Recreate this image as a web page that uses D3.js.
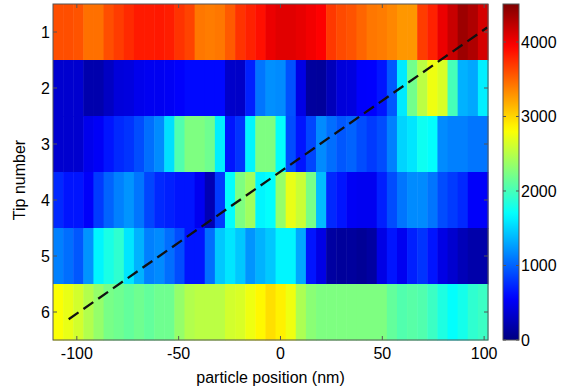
<!DOCTYPE html>
<html>
<head>
  <meta charset="utf-8">
  <script src="https://d3js.org/d3.v7.min.js"></script>
  <style>
    body { margin: 0; background: #fff; }
    text { font-family: "Liberation Sans", Arial, sans-serif; fill: #000; }
  </style>
</head>
<body>
  <div id="chart"></div>
  <script>
    // tip numbers (rows) and counts per column
    const tips = [1, 2, 3, 4, 5, 6];
    const tip1 = [3600,3600,3580,3450,3450,3600,3680,3760,3830,3830,3840,3820,3720,3650,3420,3400,3420,3550,3720,3800,3880,4030,4080,4080,4050,4000,3950,3700,3620,3580,3500,3420,3400,3350,3280,3280,3680,3800,4030,4190,4380,4300,4130];
    const tip2 = [350,350,350,200,200,300,400,420,480,500,500,520,550,600,600,600,600,330,320,700,1080,1200,1180,920,450,130,120,260,400,420,550,560,650,950,1600,2200,2520,2750,2650,2000,1350,1300,1620];
    const tip3 = [350,350,350,480,530,650,740,790,900,1050,1180,1550,2050,2250,2250,2180,1620,650,790,1650,2250,2250,1700,900,650,870,1180,1050,950,1000,900,820,900,1130,1500,1580,1750,1700,1180,1130,1130,1080,1080];
    const tip4 = [740,650,650,540,820,1000,1130,1220,1080,870,740,700,650,650,500,230,820,1700,2250,2400,1650,1700,2350,2720,2580,2220,1400,740,650,520,500,500,700,900,1080,1180,1180,1080,900,820,740,540,540];
    const tip5 = [1130,1050,950,1220,1650,1800,1900,1580,1350,1130,1180,1050,900,650,650,1050,1450,1580,1450,1220,1350,1450,1650,1650,1300,650,450,150,120,130,100,150,450,650,500,700,790,650,450,350,250,190,190];
    const tip6 = [2800,2720,2620,2480,2350,2220,2180,2130,2180,2130,2180,2180,2350,2480,2520,2520,2520,2620,2650,2750,2850,2960,2880,2750,2450,2300,2250,2250,2250,2250,2250,2250,2250,2130,2050,2080,2050,1950,1820,1700,1780,1900,1950];
    const rows = [tip1, tip2, tip3, tip4, tip5, tip6];

    const xTicks = [-100, -50, 0, 50, 100];
    const cTicks = [0, 1000, 2000, 3000, 4000];
    // dashed guide line end points (nm, tip)
    const guideX = [-104, 101.5];
    const guideY = [6.13, 0.92];

    const W = 570, H = 390;
    const plot = {left: 53, right: 488, top: 4, bottom: 340};
    const cbar = {left: 503, right: 519};
    const fs = "16px";

    const svg = d3.select("#chart").append("svg")
      .attr("width", W).attr("height", H);

    const x = d3.scaleLinear().domain([-111.7, 101.9]).range([plot.left, plot.right]);
    const y = d3.scaleLinear().domain([0.5, 6.5]).range([plot.top, plot.bottom]);

    // MATLAB jet colormap
    const jet = t => {
      const c = v => Math.max(0, Math.min(1, v));
      const r = c(Math.min(4 * t - 1.5, -4 * t + 4.5));
      const g = c(Math.min(4 * t - 0.5, -4 * t + 3.5));
      const b = c(Math.min(4 * t + 0.5, -4 * t + 2.5));
      return d3.rgb(r * 255, g * 255, b * 255).toString();
    };
    const color = d3.scaleSequential(jet).domain([0, 4510]);

    // columns span the x range evenly
    const nCols = tip1.length;
    const colW = (x.domain()[1] - x.domain()[0]) / nCols;
    const cells = [];
    rows.forEach((vals, r) => vals.forEach((v, i) => cells.push({tip: tips[r], i, v})));

    svg.append("g").selectAll("rect")
      .data(cells)
      .join("rect")
        .attr("x", d => x(x.domain()[0] + d.i * colW))
        .attr("width", d => x(x.domain()[0] + (d.i + 1) * colW) - x(x.domain()[0] + d.i * colW) + 0.5)
        .attr("y", d => y(d.tip - 0.5))
        .attr("height", d => y(d.tip + 0.5) - y(d.tip - 0.5) + 0.5)
        .attr("fill", d => color(d.v));

    // dashed line
    svg.append("line")
      .attr("x1", x(guideX[0])).attr("y1", y(guideY[0]))
      .attr("x2", x(guideX[1])).attr("y2", y(guideY[1]))
      .attr("stroke", "#111")
      .attr("stroke-width", 2.3)
      .attr("stroke-dasharray", "12,6");

    // axes (ticks inside, like MATLAB)
    const tickLen = 4;
    const axisCol = "#555";
    const ax = svg.append("g");
    ax.append("rect")
      .attr("x", plot.left).attr("y", plot.top)
      .attr("width", plot.right - plot.left).attr("height", plot.bottom - plot.top)
      .attr("fill", "none").attr("stroke", axisCol);

    xTicks.forEach(t => {
      ax.append("line").attr("x1", x(t)).attr("x2", x(t))
        .attr("y1", plot.bottom).attr("y2", plot.bottom - tickLen).attr("stroke", axisCol);
      ax.append("line").attr("x1", x(t)).attr("x2", x(t))
        .attr("y1", plot.top).attr("y2", plot.top + tickLen).attr("stroke", axisCol);
      ax.append("text").attr("x", x(t)).attr("y", 359)
        .attr("text-anchor", "middle").style("font-size", fs)
        .text(t);
    });

    tips.forEach(t => {
      ax.append("line").attr("x1", plot.left).attr("x2", plot.left + tickLen)
        .attr("y1", y(t)).attr("y2", y(t)).attr("stroke", axisCol);
      ax.append("line").attr("x1", plot.right).attr("x2", plot.right - tickLen)
        .attr("y1", y(t)).attr("y2", y(t)).attr("stroke", axisCol);
      ax.append("text").attr("x", 50).attr("y", y(t) + 6)
        .attr("text-anchor", "end").style("font-size", fs)
        .text(t);
    });

    svg.append("text")
      .attr("x", (plot.left + plot.right) / 2).attr("y", 383)
      .attr("text-anchor", "middle").style("font-size", fs)
      .text("particle position (nm)");

    svg.append("text")
      .attr("transform", `translate(25,${(plot.top + plot.bottom) / 2 + 8}) rotate(-90)`)
      .attr("text-anchor", "middle").style("font-size", fs)
      .text("Tip number");

    // colorbar
    const c = d3.scaleLinear().domain([0, 4510]).range([plot.bottom, plot.top]);
    const grad = svg.append("defs").append("linearGradient")
      .attr("id", "jet").attr("x1", 0).attr("y1", 1).attr("x2", 0).attr("y2", 0);
    d3.range(0, 1.0001, 0.02).forEach(s => {
      grad.append("stop").attr("offset", s).attr("stop-color", color(s * 4510));
    });
    svg.append("rect")
      .attr("x", cbar.left).attr("y", plot.top)
      .attr("width", cbar.right - cbar.left).attr("height", plot.bottom - plot.top)
      .attr("fill", "url(#jet)").attr("stroke", axisCol);

    cTicks.forEach(t => {
      svg.append("line").attr("x1", cbar.left).attr("x2", cbar.left + 3)
        .attr("y1", c(t)).attr("y2", c(t)).attr("stroke", axisCol);
      svg.append("line").attr("x1", cbar.right).attr("x2", cbar.right - 3)
        .attr("y1", c(t)).attr("y2", c(t)).attr("stroke", axisCol);
      svg.append("text").attr("x", cbar.right + 2).attr("y", c(t) + 6)
        .style("font-size", fs)
        .text(t);
    });
  </script>
</body>
</html>
